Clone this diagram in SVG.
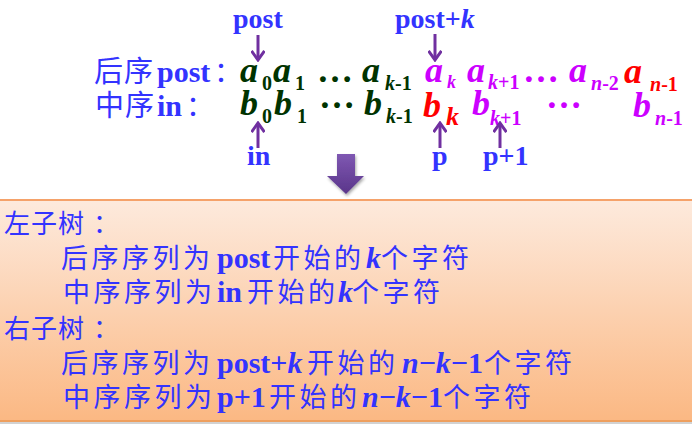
<svg xmlns="http://www.w3.org/2000/svg" width="692" height="424" viewBox="0 0 692 424">
<style>
.cj{font-family:"Noto Sans CJK SC","Noto Sans CJK JP",sans-serif;font-weight:normal;fill:#3333ff}
.lt{font-family:"Liberation Serif","Times New Roman",serif;font-weight:bold;fill:#3333ff}
.it{font-style:italic}
.m{font-family:"Liberation Serif","Times New Roman",serif;font-weight:bold;font-style:italic;font-size:36px}
.s{font-size:20px;font-style:normal}
.up{font-style:normal}
.g{fill:#003300}
.v{fill:#cc00ff}
.r{fill:#ff0000}
.box{font-size:27px;letter-spacing:3.5px}
.hd{font-size:26px;letter-spacing:1px}
.bl{font-size:30px}
.arr{stroke:#7030a0;stroke-width:3;fill:none;marker-end:url(#ah)}
</style>
<defs>
<marker id="ah" viewBox="0 0 14 14" refX="12" refY="7" markerWidth="14" markerHeight="14" markerUnits="userSpaceOnUse" orient="auto">
<path d="M3,0.5 L12,7 L3,13.5" fill="none" stroke="#7030a0" stroke-width="3"/>
</marker>
<linearGradient id="bg" x1="0" y1="0" x2="0" y2="1">
<stop offset="0" stop-color="#fdeadd"/>
<stop offset="1" stop-color="#fbb883"/>
</linearGradient>
<linearGradient id="pg" x1="0" y1="0" x2="0" y2="1">
<stop offset="0" stop-color="#7f58b2"/>
<stop offset="1" stop-color="#5a358a"/>
</linearGradient>
<filter id="sh" x="-30%" y="-30%" width="160%" height="160%">
<feDropShadow dx="1" dy="2" stdDeviation="1.5" flood-color="#000" flood-opacity="0.35"/>
</filter>
</defs>

<g id="result-box">
<rect x="0" y="200" width="692" height="221" fill="url(#bg)"/>
<line x1="0" y1="200" x2="692" y2="200" stroke="#f5a26a" stroke-width="2"/>
<line x1="0" y1="421" x2="692" y2="421" stroke="#ee9f5e" stroke-width="2"/>
<rect x="0" y="422" width="692" height="2" fill="#d2d2d2"/>
<text class="cj hd" y="233"><tspan x="4">左子树</tspan><tspan x="93">：</tspan></text>
<text y="268"><tspan class="cj box" x="61">后序序列为</tspan><tspan class="lt bl" x="217">post</tspan><tspan class="cj box" x="273">开始的</tspan><tspan class="lt bl it" x="366">k</tspan><tspan class="cj box" x="381">个字符</tspan></text>
<text y="302"><tspan class="cj box" x="63">中序序列为</tspan><tspan class="lt bl" x="217">in</tspan><tspan class="cj box" x="247">开始的</tspan><tspan class="lt bl it" x="338">k</tspan><tspan class="cj box" x="352">个字符</tspan></text>
<text class="cj hd" y="338"><tspan x="4">右子树</tspan><tspan x="93">：</tspan></text>
<text y="373"><tspan class="cj box" x="61">后序序列为</tspan><tspan class="lt bl" x="217">post+<tspan class="it">k</tspan></tspan><tspan class="cj box" x="307">开始的</tspan><tspan class="lt bl" x="402"><tspan class="it">n</tspan>−<tspan class="it">k</tspan>−1</tspan><tspan class="cj box" x="484">个字符</tspan></text>
<text y="407"><tspan class="cj box" x="63">中序序列为</tspan><tspan class="lt bl" x="217">p+1</tspan><tspan class="cj box" x="269">开始的</tspan><tspan class="lt bl" x="362"><tspan class="it">n</tspan>−<tspan class="it">k</tspan>−1</tspan><tspan class="cj box" x="443">个字符</tspan></text>
</g>

<g id="labels">
<text y="82"><tspan class="cj" font-size="29" letter-spacing="1" x="94">后序</tspan><tspan class="lt bl" x="157">post</tspan><tspan class="cj" font-size="28" x="214">：</tspan></text>
<text y="116"><tspan class="cj" font-size="29" letter-spacing="1" x="95">中序</tspan><tspan class="lt bl" x="157">in</tspan><tspan class="cj" font-size="28" x="186">：</tspan></text>
<text class="lt" font-size="28" x="233" y="28">post</text>
<text class="lt" font-size="28" x="395" y="28">post+<tspan class="it">k</tspan></text>
<text class="lt" font-size="28" x="247" y="165">in</text>
<text class="lt" font-size="28" x="432" y="165">p</text>
<text class="lt" font-size="28" x="483" y="165">p+1</text>
</g>

<g id="postorder-row">
<text class="m g" x="240" y="82">a<tspan class="s" x="262" y="90">0</tspan></text>
<text class="m g" x="273" y="82">a<tspan class="s" x="295" y="90">1</tspan></text>
<text class="m g up" x="317" y="82">…</text>
<text class="m g" x="362" y="82">a<tspan class="s" x="385" y="90"><tspan class="it">k</tspan>-1</tspan></text>
<text class="m v" x="425" y="82">a<tspan font-size="18" x="447" y="88">k</tspan></text>
<text class="m v" x="467" y="82">a<tspan class="s" x="488" y="89"><tspan class="it">k</tspan>+1</tspan></text>
<text class="m v up" x="523" y="82">…</text>
<text class="m v" x="569" y="82">a<tspan class="s" x="591" y="90"><tspan class="it">n</tspan>-2</tspan></text>
<text class="m r" font-size="42" x="624" y="83">a<tspan class="s" font-size="22" x="650" y="91"><tspan class="it">n</tspan>-1</tspan></text>
</g>

<g id="inorder-row">
<text class="m g" x="240" y="115">b<tspan class="s" x="262" y="123">0</tspan></text>
<text class="m g" x="274" y="115">b<tspan class="s" x="297" y="123">1</tspan></text>
<text class="m g up" x="319" y="108">…</text>
<text class="m g" x="364" y="115">b<tspan class="s" x="386" y="123"><tspan class="it">k</tspan>-1</tspan></text>
<text class="m r" font-size="41" x="423" y="117">b<tspan font-size="26" x="446" y="125">k</tspan></text>
<text class="m v" x="472" y="115">b<tspan class="s" x="490" y="125"><tspan class="it">k</tspan>+1</tspan></text>
<text class="m v up" x="546" y="108">…</text>
<text class="m v" x="633" y="117">b<tspan class="s" x="655" y="125"><tspan class="it">n</tspan>-1</tspan></text>
</g>

<g id="connectors">
<line class="arr" x1="258" y1="35" x2="258" y2="60"/>
<line class="arr" x1="435" y1="34" x2="435" y2="60"/>
<line class="arr" x1="258" y1="148" x2="258" y2="123"/>
<line class="arr" x1="440" y1="148" x2="440" y2="123"/>
<line class="arr" x1="500" y1="148" x2="500" y2="123"/>
<polygon points="337,154 355,154 355,176 364,176 346,194 327,176 337,176" fill="url(#pg)" filter="url(#sh)"/>
</g>
</svg>
